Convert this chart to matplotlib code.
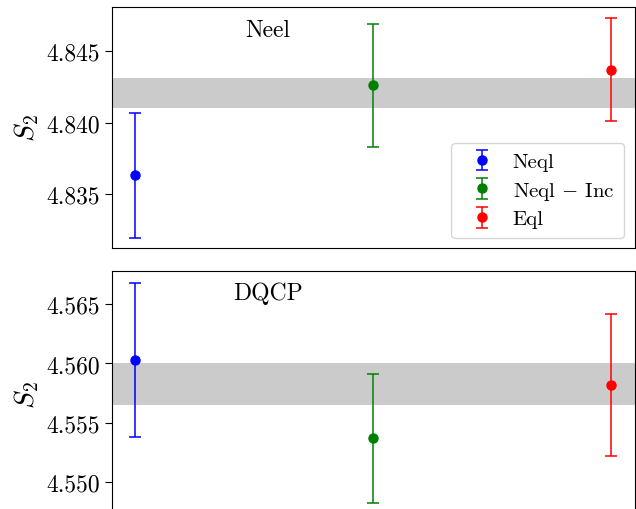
import matplotlib
matplotlib.use("Agg")
import matplotlib.pyplot as plt

plt.rcParams["font.family"] = ["cmr10", "DejaVu Serif"]
plt.rcParams["mathtext.fontset"] = "cm"
plt.rcParams["axes.formatter.use_mathtext"] = True

series = ["Neql", r"Neql $-$ Inc", "Eql"]
colors = ["blue", "green", "red"]
xpos = [0, 1, 2]

# Neel phase
neel_vals = [4.8363, 4.8426, 4.8437]
neel_errs = [0.0044, 0.0043, 0.0036]
neel_band = (4.8410, 4.8431)

# DQCP
dqcp_vals = [4.5603, 4.5537, 4.5582]
dqcp_errs = [0.0065, 0.0054, 0.0060]
dqcp_band = (4.5565, 4.5600)

panel_titles = ["Neel", "DQCP"]
yticks_top = [4.835, 4.840, 4.845]
yticks_bot = [4.550, 4.555, 4.560, 4.565]

fig = plt.figure(figsize=(6.36, 5.10), dpi=100)
ax1 = fig.add_axes([0.1756, 0.5118, 0.8223, 0.4725])
ax2 = fig.add_axes([0.1756, -0.0176, 0.8223, 0.4843])

def draw(ax, vals, errs, band, title, yticks, ylim, title_y, legend=False):
    ax.axhspan(band[0], band[1], color="#cbcbcb", lw=0, zorder=0)
    for x, v, e, c, lab in zip(xpos, vals, errs, colors, series):
        ax.errorbar(x, v, yerr=e, fmt="o", color=c, ms=6.5, capsize=4.5,
                    elinewidth=1.1, capthick=1.1, label=lab)
    ax.set_xlim(-0.1, 2.1)
    ax.set_ylim(*ylim)
    ax.set_xticks([])
    ax.set_yticks(yticks)
    ax.set_yticklabels([f"{t:.3f}" for t in yticks])
    ax.tick_params(axis="y", labelsize=17, length=5)
    ax.set_ylabel(r"$S_2$", fontsize=20, labelpad=4)
    ax.text(0.299, title_y, title, transform=ax.transAxes,
            ha="center", va="center", fontsize=17)
    if legend:
        ax.legend(loc="lower right", fontsize=15, handletextpad=0.5,
                  borderpad=0.45, labelspacing=0.4, handlelength=2.0,
                  borderaxespad=0, bbox_to_anchor=(0.979, 0.042))

draw(ax1, neel_vals, neel_errs, neel_band, panel_titles[0], yticks_top,
     (4.8312, 4.8481), 0.905, legend=True)
draw(ax2, dqcp_vals, dqcp_errs, dqcp_band, panel_titles[1], yticks_bot,
     (4.5470, 4.56778), 0.912)

fig.savefig("out.png", dpi=100)
